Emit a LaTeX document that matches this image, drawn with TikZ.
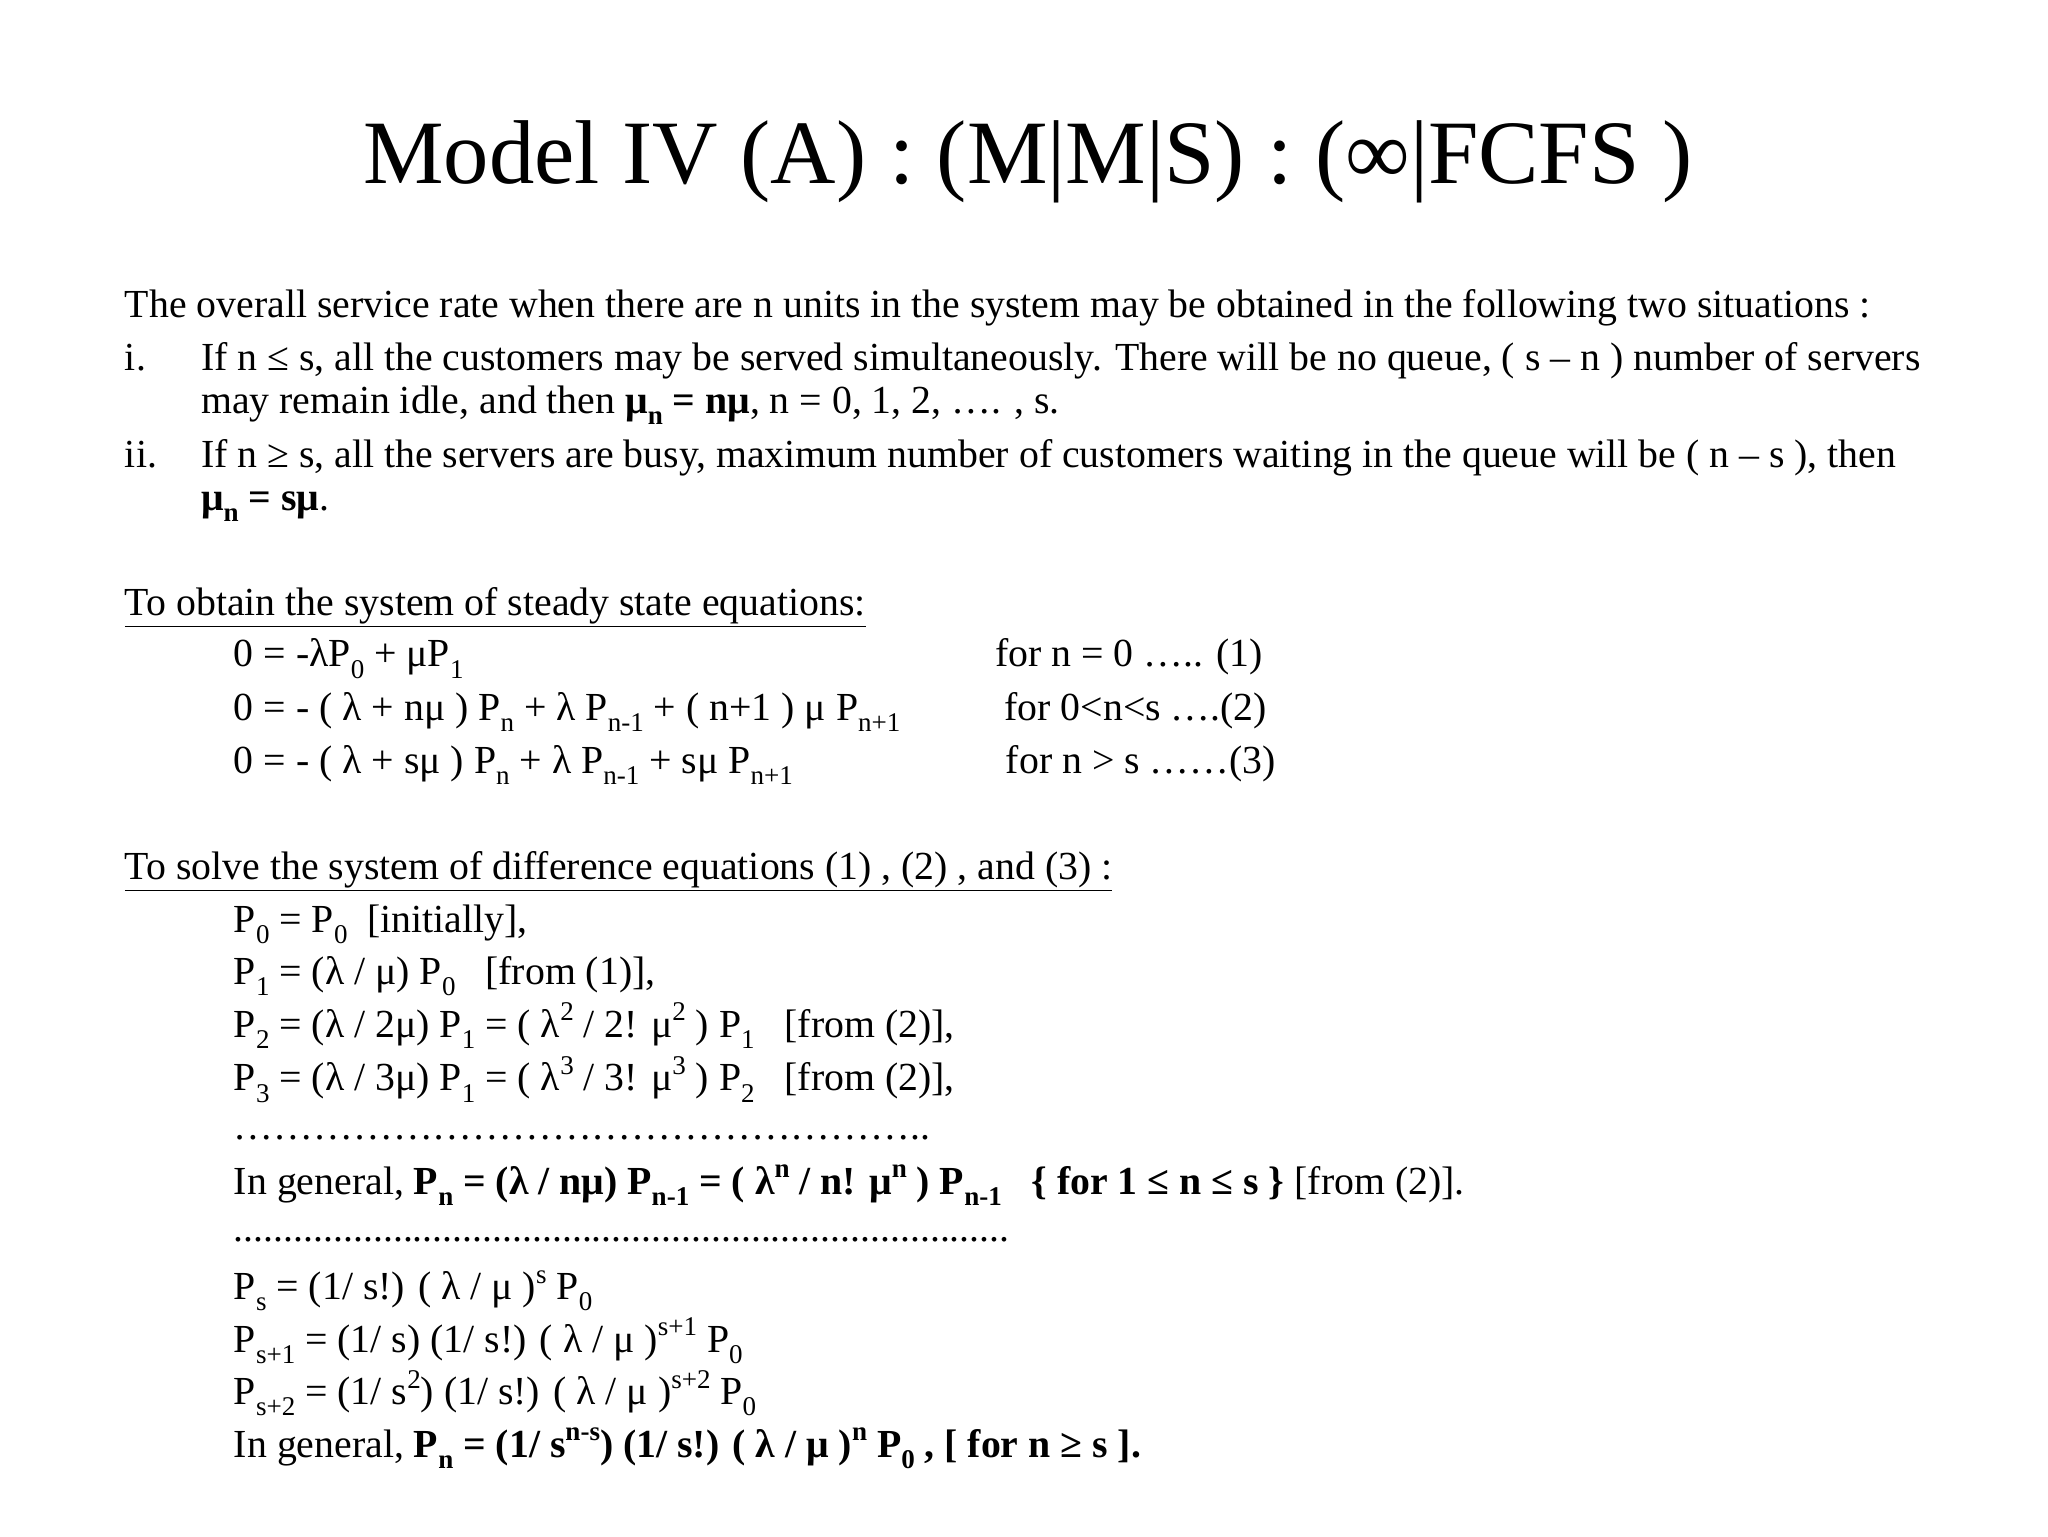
\documentclass[tikz,border=0pt]{standalone}
\usepackage{fontspec}
\setmainfont{Liberation Serif}
\newcommand\dn[1]{\raisebox{-0.28em}{\scalebox{0.68}{#1}}}
\newcommand\up[1]{\raisebox{0.42em}{\scalebox{0.68}{#1}}}
\begin{document}
\begin{tikzpicture}[x=1pt,y=-1pt,
  tx/.style={anchor=base west,inner sep=0pt,font=\fontsize{30.3}{34}\selectfont}]
\useasboundingbox (0,0) rectangle (1560,1170);
\node[anchor=base,inner sep=0pt,font=\fontsize{69}{80}\selectfont] (title) at (783,140) {Model IV (A) : (M|M|S) : (∞|FCFS )};
\node[tx] (l1) at (95,242) {The overall service rate when there are n units in the system may be obtained in the following two situations :};
\node[tx] (i) at (95,282) {i.};
\node[tx] (i1) at (153,282) {If n ≤ s, all the customers may be served simultaneously. There will be no queue, ( s – n ) number of servers};
\node[tx] (i2) at (153,315) {may remain idle, and then \textbf{μ\dn{n} = nμ}, n = 0, 1, 2, …. , s.};
\node[tx] (ii) at (95,356) {ii.};
\node[tx] (ii1) at (153,356) {If n ≥ s, all the servers are busy, maximum number of customers waiting in the queue will be ( n – s ), then};
\node[tx] (ii2) at (153,389) {\textbf{μ\dn{n} = sμ}.};
\node[tx] (h1) at (95,469) {\underline{To obtain the system of steady state equations:}};
\node[tx] (e1) at (178,508) {0 = -λP\dn{0} + μP\dn{1}};
\node[tx] (e2) at (178,549) {0 = - ( λ + nμ ) P\dn{n} + λ P\dn{n-1} + ( n+1 ) μ P\dn{n+1}};
\node[tx] (e3) at (178,589) {0 = - ( λ + sμ ) P\dn{n} + λ P\dn{n-1} + sμ P\dn{n+1}};
\node[tx] (r1) at (758,508) {for n = 0 ….. (1)};
\node[tx] (r2) at (765,549) {for 0<n<s ….(2)};
\node[tx] (r3) at (766,589) {for n > s ……(3)};
\node[tx] (h2) at (95,670) {\underline{To solve the system of difference equations (1) , (2) , and (3) :}};
\node[tx] (p0) at (178,710) {P\dn{0} = P\dn{0}~~[initially],};
\node[tx] (p1) at (178,750) {P\dn{1} = (λ / μ) P\dn{0}~~~[from (1)],};
\node[tx] (p2) at (178,790) {P\dn{2} = (λ / 2μ) P\dn{1} = ( λ\up{2} / 2! μ\up{2} ) P\dn{1}~~~[from (2)],};
\node[tx] (p3) at (178,831) {P\dn{3} = (λ / 3μ) P\dn{1} = ( λ\up{3} / 3! μ\up{3} ) P\dn{2}~~~[from (2)],};
\node[tx] (d1) at (178,868) {……………………………………………..};
\node[tx] (g1) at (178,910) {In general, \textbf{P\dn{n} = (λ / nμ) P\dn{n-1} = ( λ\up{n} / n! μ\up{n} ) P\dn{n-1}~~~\{ for 1 ≤ n ≤ s \}} [from (2)].};
\node[tx] (d2) at (178,946) {..............................................................................};
\node[tx] (ps) at (178,990) {P\dn{s} = (1/ s!) ( λ / μ )\up{s} P\dn{0}};
\node[tx] (ps1) at (178,1030) {P\dn{s+1} = (1/ s) (1/ s!) ( λ / μ )\up{s+1} P\dn{0}};
\node[tx] (ps2) at (178,1070) {P\dn{s+2} = (1/ s\up{2}) (1/ s!) ( λ / μ )\up{s+2} P\dn{0}};
\node[tx] (g2) at (178,1110) {In general, \textbf{P\dn{n} = (1/ s\up{n-s}) (1/ s!) ( λ / μ )\up{n} P\dn{0} , [ for n ≥ s ].}};
\end{tikzpicture}
\end{document}
